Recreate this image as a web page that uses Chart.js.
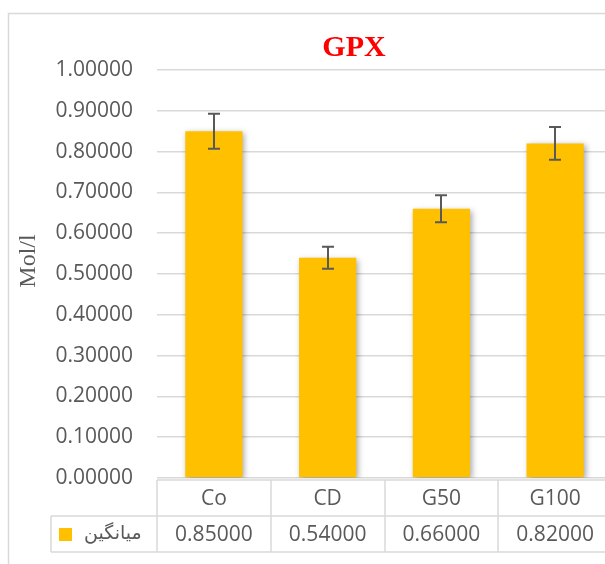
<!DOCTYPE html>
<html>
<head>
<meta charset="utf-8">
<script src="https://cdn.jsdelivr.net/npm/chart.js@4.4.1/dist/chart.umd.min.js"></script>
<style>
  html, body { margin: 0; padding: 0; background: #fff; overflow: hidden; }
  #wrap { width: 605px; height: 564px; overflow: hidden; }
</style>
</head>
<body>
<div id="wrap"><canvas id="gpxChart" width="612" height="564"></canvas></div>
<script>
// chart data
const categories = ['Co', 'CD', 'G50', 'G100'];
const means = [0.85, 0.54, 0.66, 0.82];
const errors = [0.043, 0.027, 0.033, 0.040];
const seriesName = 'میانگین';
const chartTitle = 'GPX';
const axisTitle = 'Mol/l';

const gpxEl = document.getElementById('gpxChart');
const tickFont = { family: "'Open Sans', sans-serif", size: 21 };
const gridColor = '#d9d9d9';
const textColor = '#595959';
const barColor = '#FFC000';

// soft shadow under the bars, like Excel's default
const barShadow = {
  id: 'barShadow',
  beforeDatasetsDraw(chart) {
    const ctx = chart.ctx;
    ctx.save();
    ctx.shadowColor = 'rgba(0,0,0,0.35)';
    ctx.shadowBlur = 6;
    ctx.shadowOffsetX = 2;
    ctx.shadowOffsetY = 2;
  },
  afterDatasetsDraw(chart) {
    chart.ctx.restore();
  }
};

// error bars from the errors array
const errorBars = {
  id: 'errorBars',
  afterDatasetsDraw(chart) {
    const ctx = chart.ctx;
    const x = chart.scales.x, y = chart.scales.y;
    ctx.save();
    ctx.strokeStyle = textColor;
    ctx.lineWidth = 2;
    means.forEach((m, i) => {
      const cx = Math.round(x.getPixelForValue(i));
      const top = y.getPixelForValue(m + errors[i]);
      const bot = y.getPixelForValue(m - errors[i]);
      ctx.beginPath();
      ctx.moveTo(cx, top); ctx.lineTo(cx, bot);
      ctx.moveTo(cx - 6, top); ctx.lineTo(cx + 6, top);
      ctx.moveTo(cx - 6, bot); ctx.lineTo(cx + 6, bot);
      ctx.stroke();
    });
    ctx.restore();
  }
};

// title, axis title, outer frame and the data table under the plot
const decorations = {
  id: 'decorations',
  afterDraw(chart) {
    const ctx = chart.ctx;
    const x = chart.scales.x;
    const area = chart.chartArea;
    ctx.save();

    // outer frame
    ctx.strokeStyle = gridColor;
    ctx.lineWidth = 1.5;
    ctx.strokeRect(8.5, 13.5, 700, 700);

    // title
    ctx.fillStyle = '#FF0000';
    ctx.font = "bold 30px 'Liberation Serif', serif";
    ctx.textAlign = 'center';
    ctx.textBaseline = 'middle';
    ctx.fillText(chartTitle, 354, 48);

    // y axis title
    ctx.save();
    ctx.translate(29, 261);
    ctx.rotate(-Math.PI / 2);
    ctx.fillStyle = textColor;
    ctx.font = "24px 'Liberation Serif', serif";
    ctx.fillText(axisTitle, 0, 0);
    ctx.restore();

    // data table
    const step = x.getPixelForValue(1) - x.getPixelForValue(0);
    const left = area.left, right = chart.width;
    const r0 = 480, r1 = 516, r2 = 552, legL = 51;
    ctx.strokeStyle = gridColor;
    ctx.lineWidth = 1.5;
    ctx.beginPath();
    ctx.moveTo(left, r0); ctx.lineTo(right, r0);
    ctx.moveTo(legL, r1); ctx.lineTo(right, r1);
    ctx.moveTo(legL, r2); ctx.lineTo(right, r2);
    ctx.moveTo(legL, r1); ctx.lineTo(legL, r2);
    categories.forEach((c, i) => {
      const bx = Math.round(x.getPixelForValue(i) - step / 2);
      ctx.moveTo(bx, r0); ctx.lineTo(bx, r2);
    });
    ctx.stroke();

    ctx.fillStyle = textColor;
    ctx.font = "21px 'Open Sans', sans-serif";
    ctx.textAlign = 'center';
    categories.forEach((c, i) => {
      const cx = x.getPixelForValue(i);
      ctx.fillText(c, cx, (r0 + r1) / 2 + 1);
      ctx.fillText(means[i].toFixed(5), cx, (r1 + r2) / 2 + 1);
    });

    // legend key
    ctx.fillStyle = barColor;
    ctx.fillRect(59, 528, 13, 13);
    ctx.fillStyle = textColor;
    ctx.font = "19px 'DejaVu Sans', sans-serif";
    ctx.textAlign = 'left';
    ctx.fillText(seriesName, 84, (r1 + r2) / 2);

    ctx.restore();
  }
};

new Chart(gpxEl, {
  type: 'bar',
  data: {
    labels: categories,
    datasets: [{
      label: seriesName,
      data: means,
      backgroundColor: barColor,
      barPercentage: 0.503,
      categoryPercentage: 1
    }]
  },
  options: {
    responsive: false,
    animation: false,
    layout: { padding: { top: 70, bottom: 86, left: 0, right: 0 } },
    plugins: {
      legend: { display: false },
      title: { display: false },
      tooltip: { enabled: false }
    },
    scales: {
      x: { display: false },
      y: {
        min: 0,
        max: 1,
        afterFit: (scale) => { scale.width = 157; },
        ticks: {
          stepSize: 0.1,
          padding: 24,
          color: textColor,
          font: tickFont,
          callback: (v) => v.toFixed(5)
        },
        grid: { color: gridColor, lineWidth: 1.5, drawTicks: false },
        border: { display: false }
      }
    }
  },
  plugins: [barShadow, errorBars, decorations]
});
</script>
</body>
</html>
